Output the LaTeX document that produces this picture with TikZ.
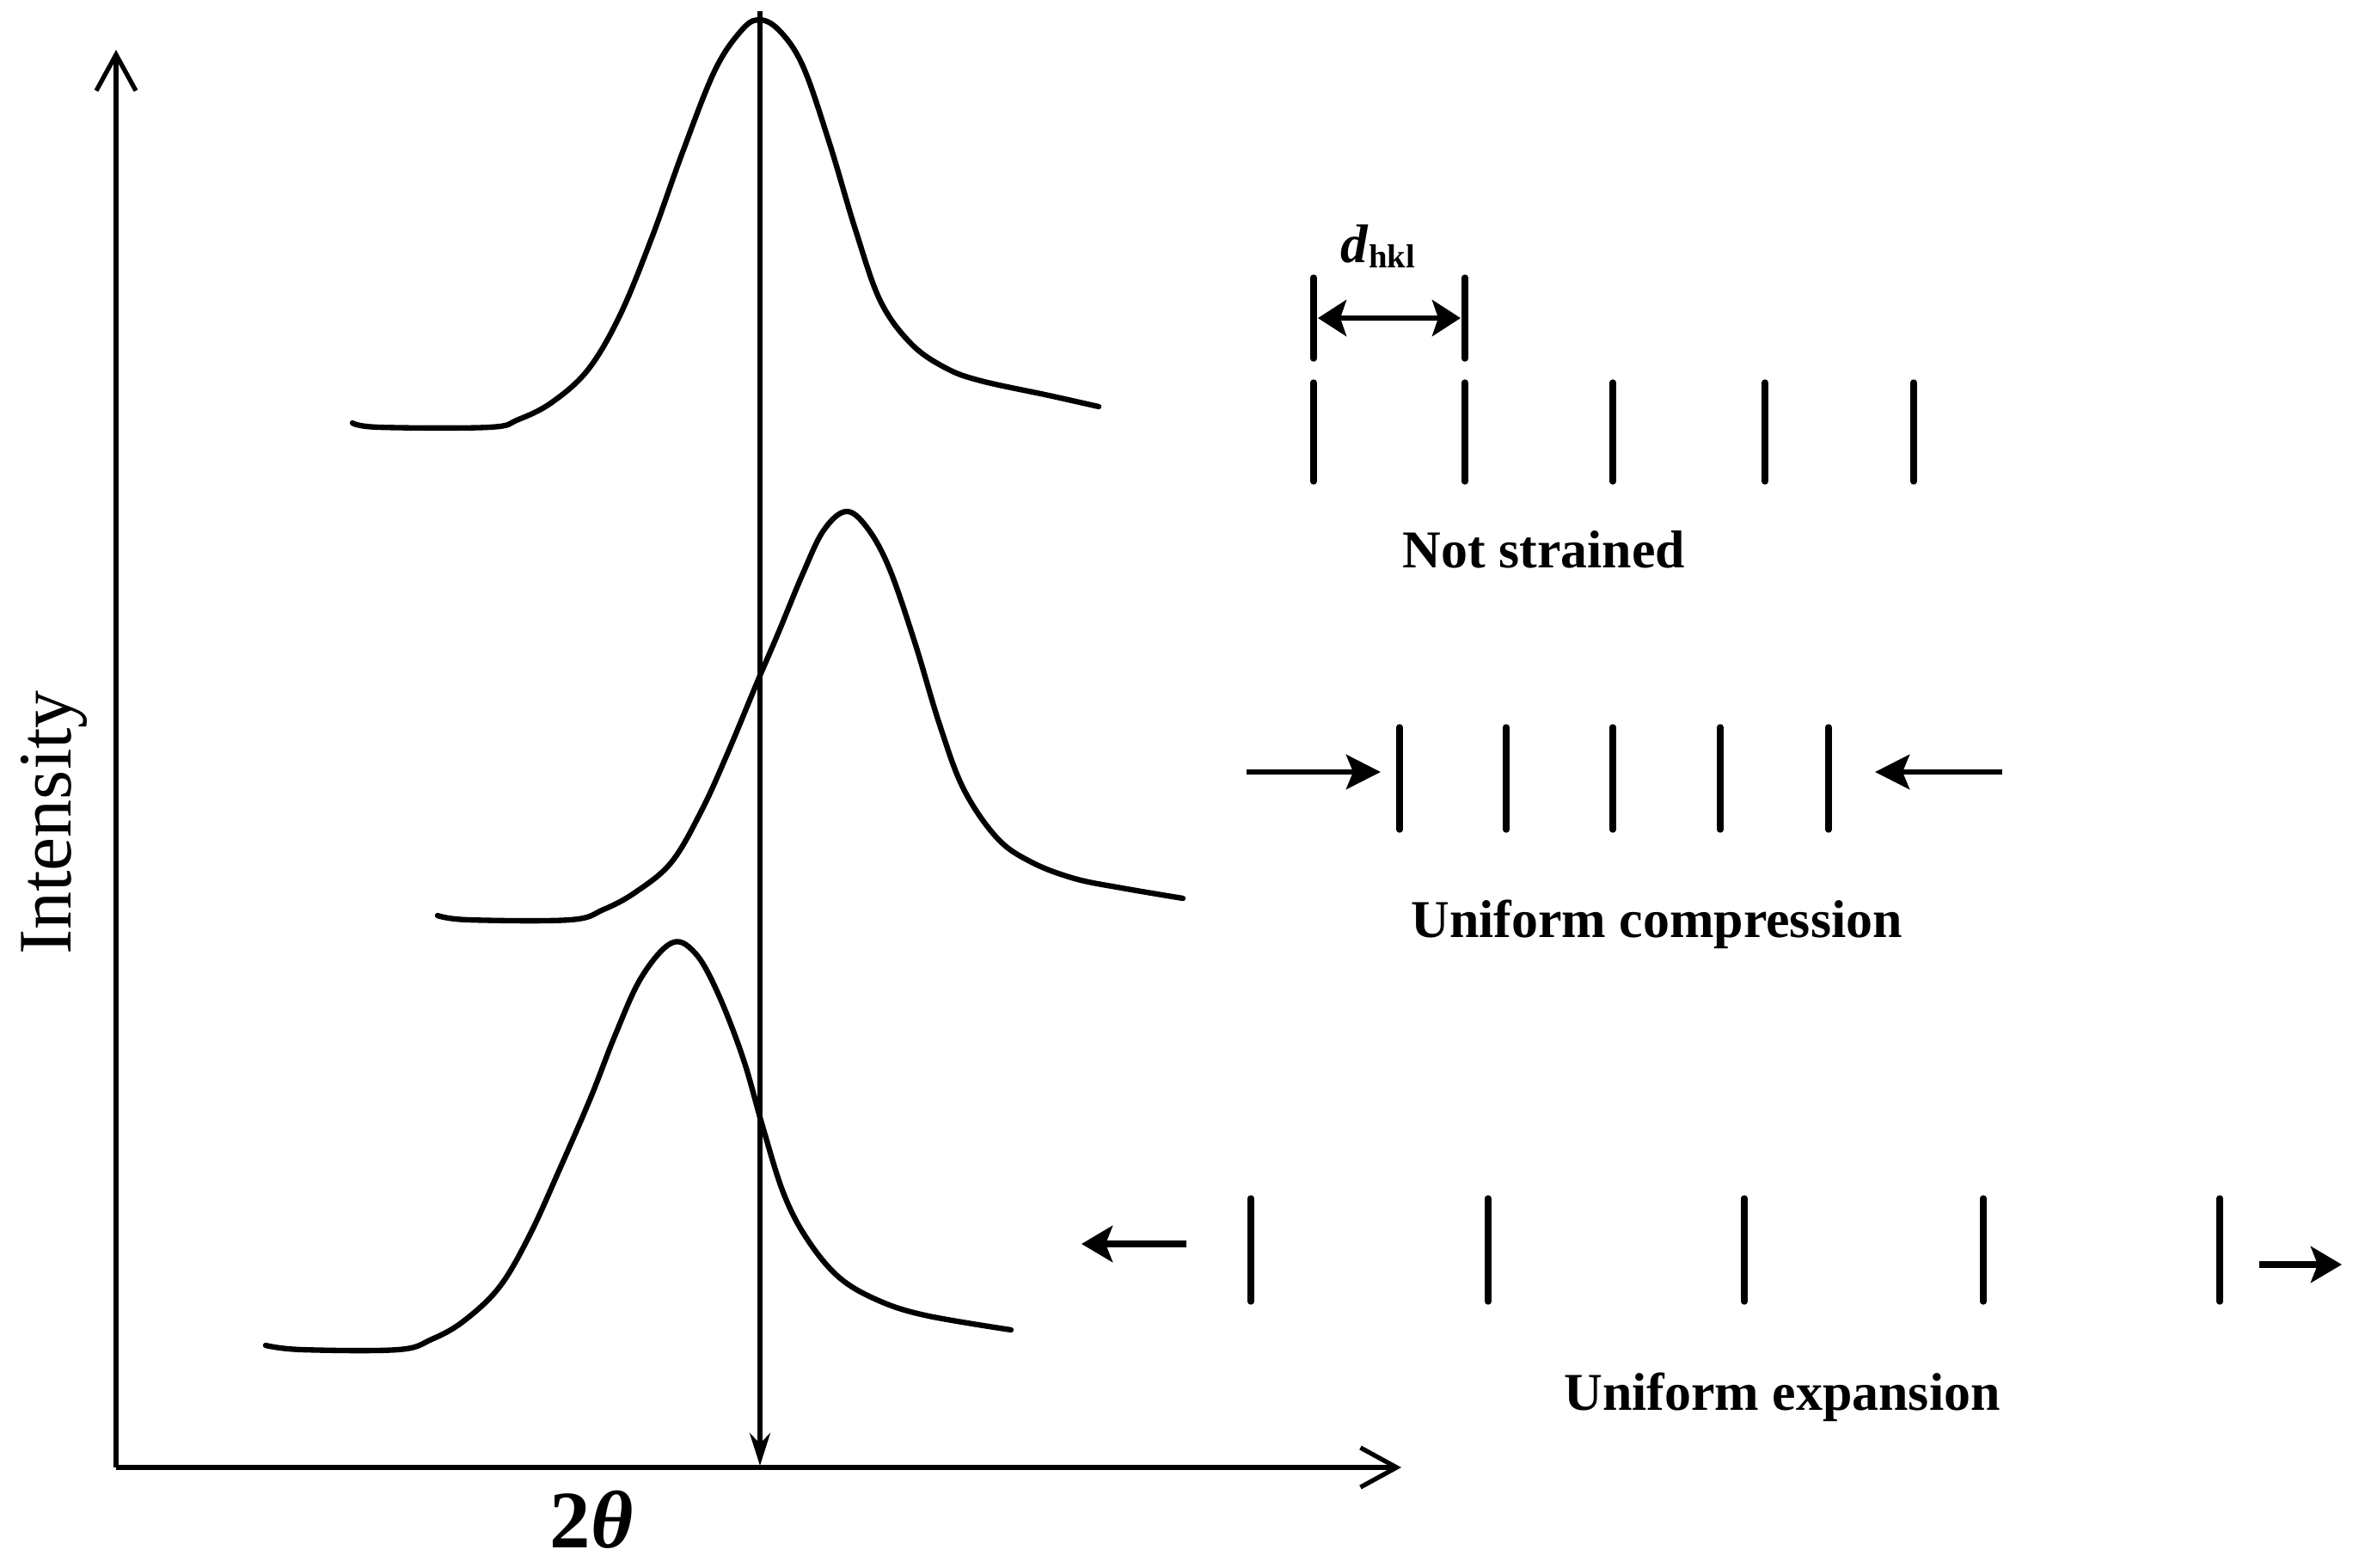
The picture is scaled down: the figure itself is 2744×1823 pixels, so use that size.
\documentclass[tikz,border=0pt]{standalone}
\usepackage{fontspec}
\setmainfont{Liberation Serif}
\usetikzlibrary{arrows.meta}
\begin{document}
\begin{tikzpicture}[x=0.01cm,y=-0.01cm,
  axis/.style={line width=1.5pt, -{Straight Barb[length=0.42cm,width=0.46cm,line width=1.5pt]}},
  curve/.style={line width=1.8pt, line join=round, line cap=round},
  plane/.style={line width=2.1pt, line cap=round},
  lbl/.style={font=\fontsize{17.6}{20}\selectfont\bfseries, inner sep=0pt, anchor=base},
  push/.style={line width=1.9pt, -{Stealth[length=0.4cm,width=0.4cm,inset=0.08cm]}},
  pull/.style={line width=2.5pt, -{Stealth[length=0.36cm,width=0.42cm,inset=0.08cm]}},
]
\useasboundingbox (0,0) rectangle (2744,1823);
% axes
\coordinate (O) at (135,1707);
\coordinate (ytop) at (135,58);
\coordinate (xend) at (1630,1707);
\draw[axis] (O) -- (ytop);
\draw[axis] (O) -- (xend);
% reference line
\coordinate (vt) at (884,13);
\coordinate (vb) at (884,1705);
\draw[line width=1.6pt, -{Stealth[length=0.38cm,width=0.24cm]}] (vt) -- (vb);
% curves
\draw[curve] plot[smooth, tension=0.6] coordinates {(410,492) (441,497) (569,497) (603,488) (642,468) (684,430) (721,367) (758,277) (794,177) (831,83) (861,37) (882,23) (906,35) (934,77) (965,167) (995,267) (1024,350) (1060,400) (1100,428) (1141,443) (1220,460) (1278,473)};
\draw[curve] plot[smooth, tension=0.6] coordinates {(509,1065) (545,1070) (663,1070) (702,1058) (739,1038) (781,1003) (816,943) (846,877) (881,793) (905,737) (934,667) (958,617) (984,595) (1008,613) (1034,660) (1064,747) (1093,843) (1121,918) (1160,975) (1200,1003) (1250,1022) (1305,1033) (1376,1045)};
\draw[curve] plot[smooth, tension=0.6] coordinates {(309,1565) (351,1570) (463,1570) (502,1558) (539,1537) (581,1497) (616,1437) (651,1360) (687,1277) (716,1203) (746,1137) (781,1097) (808,1108) (834,1153) (864,1230) (887,1310) (911,1387) (938,1440) (975,1485) (1020,1512) (1076,1530) (1176,1547)};
% axis labels
\node[font=\fontsize{25}{28}\selectfont, inner sep=0pt, anchor=base, rotate=90] (ylab) at (83,957) {Intensity};
\node[font=\fontsize{27}{30}\selectfont\bfseries, inner sep=0pt, anchor=base] (xlab) at (688,1800) {2\textit{θ}};
% not strained
\foreach \x in {1528,1704,1876,2053,2226} \draw[plane] (\x,445) -- (\x,560);
\draw[plane] (1528,323) -- (1528,417);
\draw[plane] (1704,323) -- (1704,417);
\coordinate (dl) at (1533,370);
\coordinate (dr) at (1699,370);
\draw[line width=1.7pt, {Stealth[length=0.33cm,width=0.42cm,inset=0.07cm]}-{Stealth[length=0.33cm,width=0.42cm,inset=0.07cm]}] (dl) -- (dr);
\node[font=\fontsize{18}{20}\selectfont\bfseries, inner sep=0pt, anchor=base] (dlab) at (1603,305) {\textit{d}{\fontsize{11}{12}\selectfont\raisebox{-0.35ex}{hkl}}};
\node[lbl] (ns) at (1796,660) {Not strained};
% compression
\foreach \x in {1628,1752,1876,2001,2127} \draw[plane] (\x,846) -- (\x,965);
\coordinate (c1a) at (1450,898);
\coordinate (c1b) at (1606,898);
\coordinate (c2a) at (2329,898);
\coordinate (c2b) at (2181,898);
\draw[push] (c1a) -- (c1b);
\draw[push] (c2a) -- (c2b);
\node[lbl] (uc) at (1927,1090) {Uniform compression};
% expansion
\foreach \x in {1455,1731,2029,2307,2582} \draw[plane] (\x,1394) -- (\x,1514);
\coordinate (e1a) at (1380,1447);
\coordinate (e1b) at (1258,1447);
\coordinate (e2a) at (2628,1471);
\coordinate (e2b) at (2724,1471);
\draw[pull] (e1a) -- (e1b);
\draw[pull] (e2a) -- (e2b);
\node[lbl] (ue) at (2073,1640) {Uniform expansion};
\end{tikzpicture}
\end{document}
